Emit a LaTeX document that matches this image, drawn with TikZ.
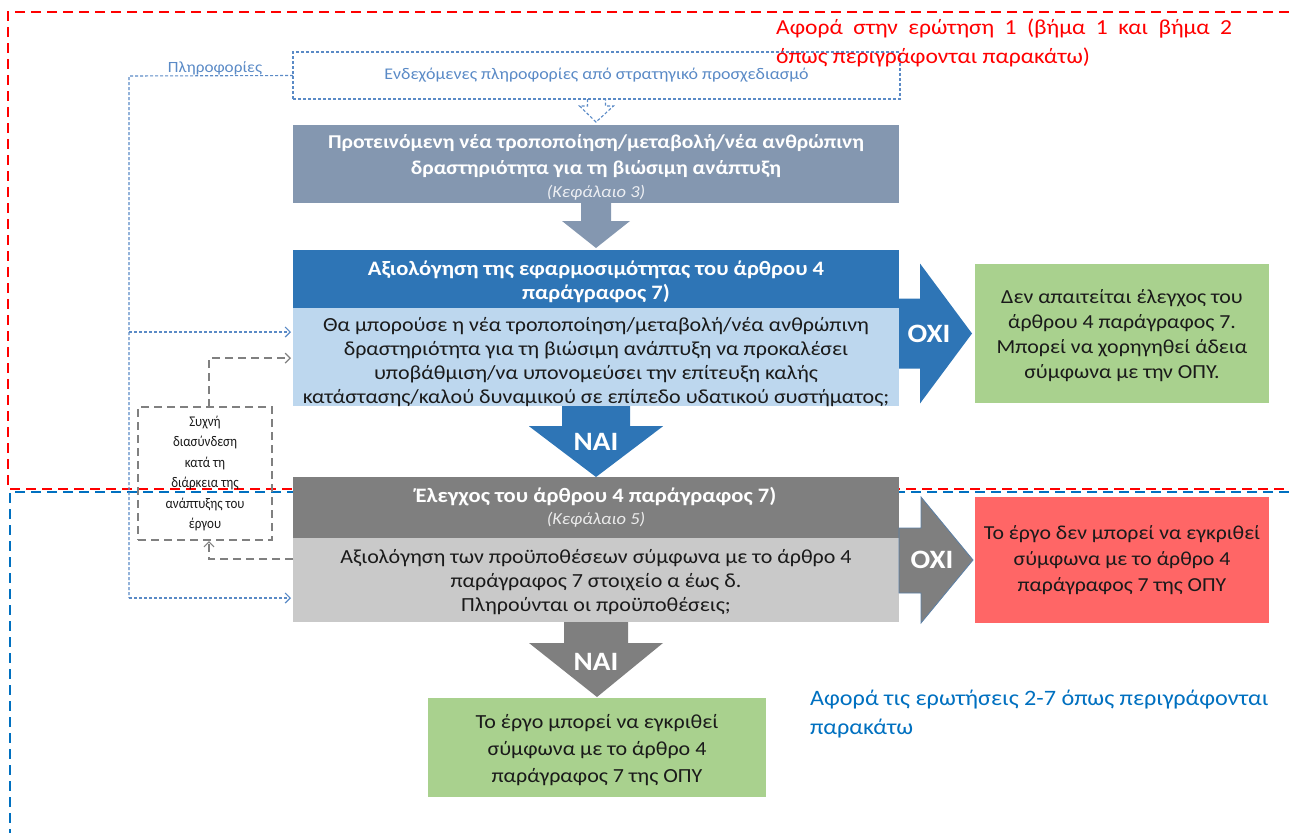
\documentclass[tikz,border=0pt]{standalone}
\usepackage{fontspec}
\setmainfont{Carlito}[FakeStretch=1.1]
\newfontfamily\linkfont{Carlito}[FakeStretch=0.88]
\usetikzlibrary{calc,arrows.meta}
\definecolor{slate}{HTML}{8497B0}
\definecolor{dblue}{HTML}{2E75B6}
\definecolor{lblue}{HTML}{BDD7EE}
\definecolor{dgray}{HTML}{7F7F7F}
\definecolor{lgray}{HTML}{C9C9C9}
\definecolor{okgreen}{HTML}{A9D18E}
\definecolor{nored}{HTML}{FF6666}
\definecolor{infoblue}{HTML}{5A8AC6}
\definecolor{linkgray}{HTML}{808080}
\definecolor{qred}{HTML}{FF0000}
\definecolor{qblue}{HTML}{0070C0}
\definecolor{txt}{HTML}{1A1A1A}
\definecolor{arrowedge}{HTML}{5B7FA6}
\begin{document}
\begin{tikzpicture}[x=1pt,y=-1pt,
  box/.style={inner sep=0pt,outer sep=0pt,anchor=north west,align=center},
  bodytxt/.style={font=\fontsize{20}{24}\selectfont,text=txt},
  titletxt/.style={font=\bfseries\fontsize{20.5}{24}\selectfont,text=white},
  arrowlbl/.style={font=\bfseries\fontsize{26.5}{28}\selectfont,text=white,inner sep=0pt},
  infoline/.style={draw=infoblue,line width=1.1pt,dash pattern=on 3pt off 2pt},
  linkline/.style={draw=linkgray,line width=2pt,dash pattern=on 8pt off 5pt},
  regionred/.style={draw=qred,line width=1.8pt,dash pattern=on 10pt off 6pt},
  regionblue/.style={draw=qblue,line width=1.8pt,dash pattern=on 10pt off 6pt},
  barb/.style={-{Straight Barb[length=5pt,width=10pt,line width=1.2pt]}}
]
\useasboundingbox (0,0) rectangle (1289,833);

% region frames
\draw[regionred] (1289,12) -- (8,12) -- (8,489) -- (1289,489);
\draw[regionblue] (1289,492) -- (10,492) -- (10,833);

% info box
\node[box,draw=infoblue,line width=1.1pt,dash pattern=on 3pt off 2pt,minimum width=607pt,minimum height=47pt,
      font=\fontsize{16.3}{18}\selectfont,text=infoblue] (info) at (293,52)
      {Ενδεχόμενες πληροφορίες από στρατηγικό προσχεδιασμό};
\node[font=\fontsize{15.6}{18}\selectfont,text=infoblue,inner sep=0pt] (infolbl) at (215,68) {Πληροφορίες};

% main boxes
\node[box,fill=slate,minimum width=606pt,minimum height=78pt,font=\bfseries\fontsize{19.6}{26}\selectfont,text=white] (b1) at (293,125)
  {\rule{0pt}{20pt}Προτεινόμενη νέα τροποποίηση/μεταβολή/νέα ανθρώπινη\\
   δραστηριότητα για τη βιώσιμη ανάπτυξη\\[-3pt]
   \mdseries\itshape\fontsize{16.8}{18}\selectfont\color{white!85!slate}(Κεφάλαιο 3)};

\node[box,fill=dblue,minimum width=606pt,minimum height=58pt,titletxt] (b2top) at (293,250)
  {\rule{0pt}{21pt}Αξιολόγηση της εφαρμοσιμότητας του άρθρου 4\\ παράγραφος 7)};
\node[box,fill=lblue,minimum width=606pt,minimum height=95pt,bodytxt] (b2bot) at (293,308)
  {\rule{0pt}{23pt}Θα μπορούσε η νέα τροποποίηση/μεταβολή/νέα ανθρώπινη\\
   δραστηριότητα για τη βιώσιμη ανάπτυξη να προκαλέσει\\
   υποβάθμιση/να υπονομεύσει την επίτευξη καλής\\
   κατάστασης/καλού δυναμικού σε επίπεδο υδατικού συστήματος;};

\node[box,fill=dgray,minimum width=606pt,minimum height=61pt,titletxt] (b3top) at (293,477)
  {Έλεγχος του άρθρου 4 παράγραφος 7)\\[-2pt]
   \mdseries\itshape\fontsize{16.8}{18}\selectfont\color{white!85!dgray}(Κεφάλαιο 5)};
\node[box,fill=lgray,minimum width=606pt,minimum height=84pt,bodytxt] (b3bot) at (293,538)
  {\rule{0pt}{19pt}Αξιολόγηση των προϋποθέσεων σύμφωνα με το άρθρο 4\\
   παράγραφος 7 στοιχείο α έως δ.\\
   Πληρούνται οι προϋποθέσεις;};

\node[box,fill=okgreen,minimum width=294pt,minimum height=139pt,font=\fontsize{19.9}{25}\selectfont,text=txt] (g1) at (975,264)
  {\rule{0pt}{19pt}Δεν απαιτείται έλεγχος του\\ άρθρου 4 παράγραφος 7.\\ Μπορεί να χορηγηθεί άδεια\\ σύμφωνα με την ΟΠΥ.};
\node[box,fill=nored,minimum width=294pt,minimum height=126pt,font=\fontsize{19.8}{26}\selectfont,text=txt] (red) at (975,497)
  {Το έργο δεν μπορεί να εγκριθεί\\ σύμφωνα με το άρθρο 4\\ παράγραφος 7 της ΟΠΥ};
\node[box,fill=okgreen,minimum width=338pt,minimum height=99pt,font=\fontsize{20}{27}\selectfont,text=txt] (g2) at (428,698)
  {\rule{0pt}{20pt}Το έργο μπορεί να εγκριθεί\\ σύμφωνα με το άρθρο 4\\ παράγραφος 7 της ΟΠΥ};

% link box
\node[box,draw=linkgray,line width=2pt,dash pattern=on 8pt off 5pt,minimum width=134pt,minimum height=133pt,
      font=\linkfont\fontsize{14.8}{20.5}\selectfont,text=txt] (link) at (138,407)
  {Συχνή\\ διασύνδεση\\ κατά τη\\ διάρκεια της\\ ανάπτυξης του\\ έργου};

% hollow dashed arrow from info box
\draw[infoline] ($(info.south)+(-9,0)$) -- ++(0,7) -- ++(-8,0) -- ($(b1.north)+(0,-3)$)
  -- ($(info.south)+(17,7)$) -- ++(-8,0) -- ++(0,-7);

% block arrows
\fill[slate] ($(b1.south)+(-15,0)$) -- ($(b1.south)+(-15,18)$) -- ($(b1.south)+(-34,18)$) -- ($(b2top.north)+(0,-2)$)
  -- ($(b1.south)+(34,18)$) -- ($(b1.south)+(15,18)$) -- ($(b1.south)+(15,0)$) -- cycle;

\path ($(g1.west)+(-3,0)$) coordinate (tipA);
\fill[dblue] (tipA) -- ++(-52,-70) -- ++(0,35) -- ($(b2bot.east|-tipA)+(0,-35)$) -- ($(b2bot.east|-tipA)+(0,35)$)
  -- ($(tipA)+(-52,35)$) -- ++(0,35) -- cycle;
\node[arrowlbl] (oxi1) at ($(tipA)+(-43,0)$) {ΟΧΙ};

\fill[dblue] ($(b2bot.south)+(-34,0)$) -- ++(0,20) -- ++(-33,0) -- ($(b3top.north)+(0,0)$)
  -- ($(b2bot.south)+(67,20)$) -- ++(-33,0) -- ++(0,-20) -- cycle;
\node[arrowlbl] (nai1) at ($(b2bot.south)+(0,36)$) {ΝΑΙ};

\path ($(red.west)+(-2,0)$) coordinate (tipB);
\filldraw[fill=dgray,draw=arrowedge,line width=0.8pt] (tipB) -- ++(-52,-63) -- ++(0,31) -- ($(b3bot.east|-tipB)+(0,-32)$) -- ($(b3bot.east|-tipB)+(0,33)$)
  -- ($(tipB)+(-52,33)$) -- ++(0,30) -- cycle;
\node[arrowlbl] (oxi2) at ($(tipB)+(-41,0)$) {ΟΧΙ};

\fill[dgray] ($(b3bot.south)+(-32,0)$) -- ++(0,21) -- ++(-35,0) -- ($(g2.north)+(0,-1)$)
  -- ($(b3bot.south)+(67,21)$) -- ++(-35,0) -- ++(0,-21) -- cycle;
\node[arrowlbl] (nai2) at ($(b3bot.south)+(0,40)$) {ΝΑΙ};

% info connectors
\coordinate (iTop) at (129,76);
\coordinate (iMid) at (129,332);
\coordinate (iBot) at (129,598);
\draw[infoline] (info.west) -- (iTop) -- (iBot);
\draw[infoline,barb,shorten >=2pt] (iMid) -- (iMid -| b2bot.west);
\draw[infoline,barb,shorten >=2pt] (iBot) -- (iBot -| b3bot.west);

% link connectors
\draw[linkline,barb,shorten >=2pt] ($(link.north)+(4,0)$) |- ($(b2bot.west)+(0,1)$);
\draw[linkline,barb,shorten >=1pt] ($(b3bot.west)+(0,-21)$) -| ($(link.south)+(4,0)$);

% region captions
\node[anchor=north west,inner sep=0pt,align=left,font=\fontsize{21.4}{29}\selectfont,text=qred] (qone) at (776,19)
  {\makebox[456pt][s]{Αφορά στην ερώτηση 1 (βήμα 1 και βήμα 2}\\ όπως περιγράφονται παρακάτω)};
\node[anchor=north west,inner sep=0pt,align=left,font=\fontsize{22}{29}\selectfont,text=qblue] (qtwo) at (810,690)
  {Αφορά τις ερωτήσεις 2-7 όπως περιγράφονται\\ παρακάτω};
\end{tikzpicture}
\end{document}
